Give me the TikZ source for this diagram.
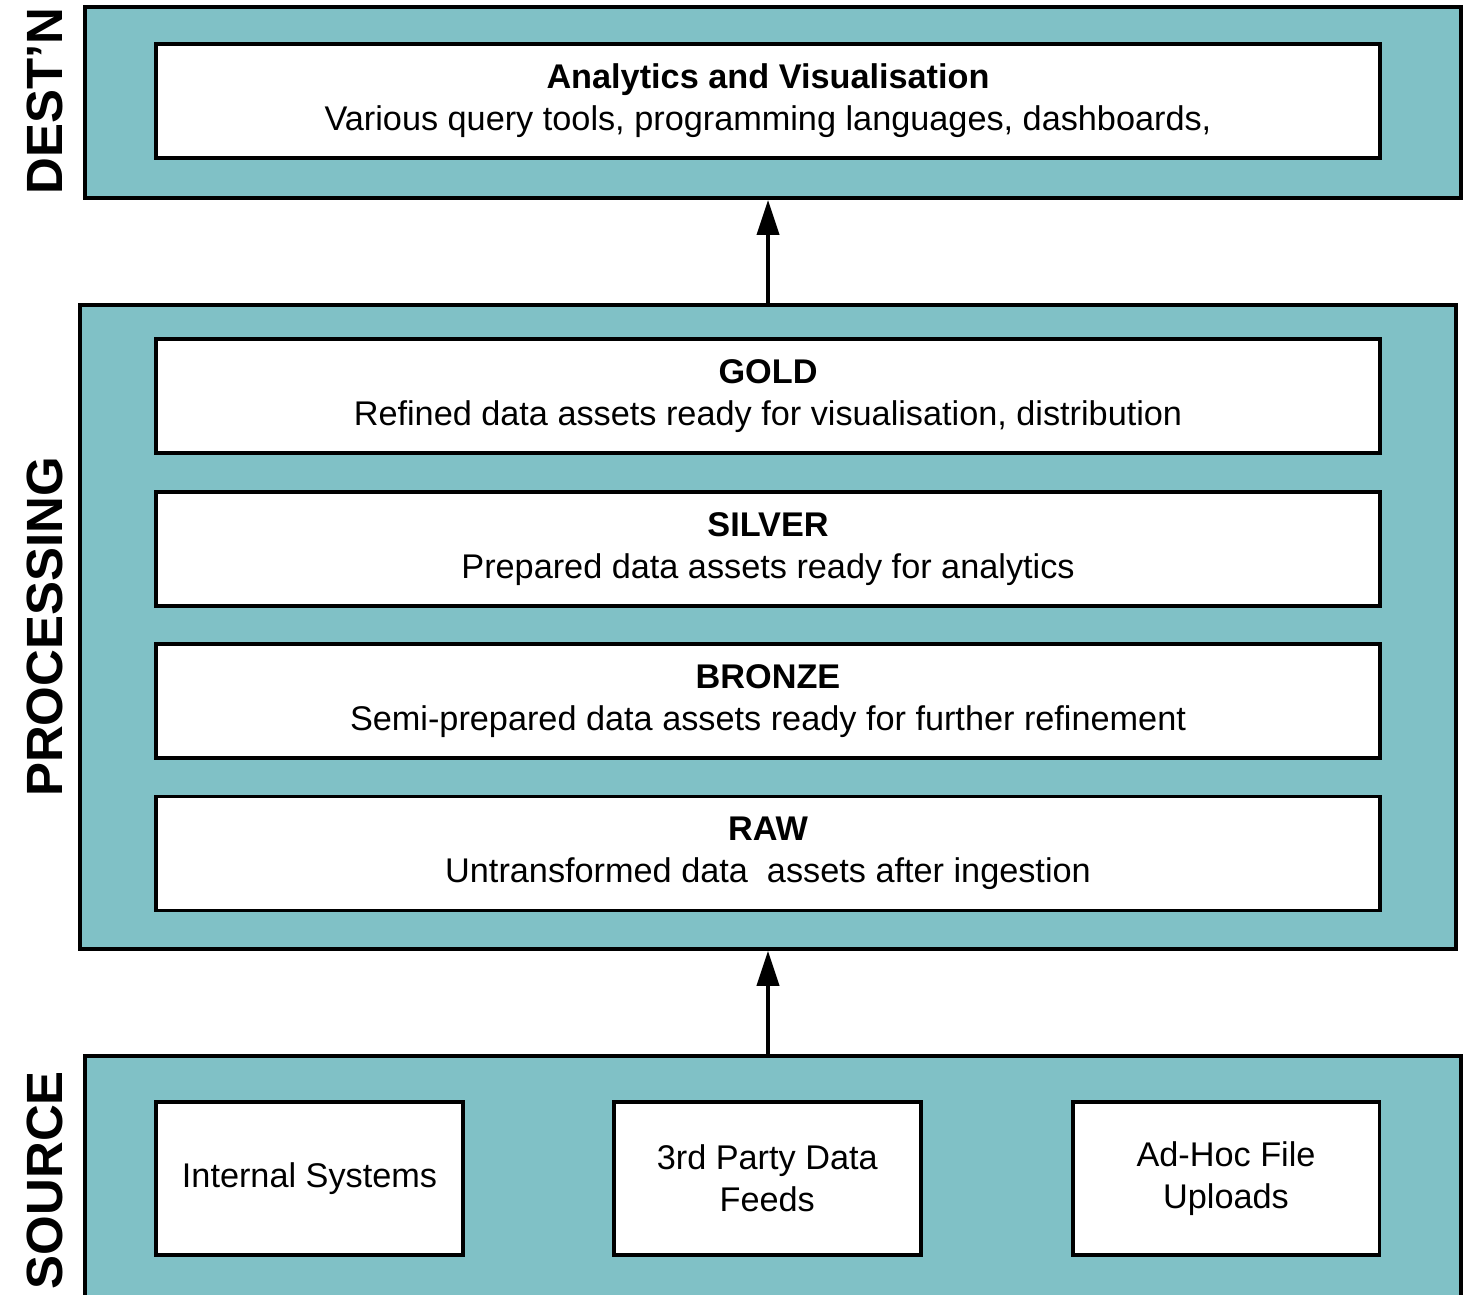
\documentclass[tikz,border=0pt]{standalone}
\usepackage{fontspec}
\setmainfont{Liberation Sans}
\usetikzlibrary{positioning, arrows.meta}
\definecolor{layercolor}{RGB}{128,193,198}

\begin{document}
\begin{tikzpicture}[
    x=0.02cm, y=-0.02cm,
    layer/.style={rectangle, draw, line width=2.2pt, fill=layercolor, inner sep=0pt,
                  minimum width=27.52cm},
    stage/.style={rectangle, draw, line width=2.2pt, fill=white, align=center,
                  minimum width=24.48cm, minimum height=2.28cm, inner sep=0pt,
                  font=\fontsize{19.5}{24}\selectfont},
    srcbox/.style={stage, minimum width=6.14cm, minimum height=3.06cm},
    side/.style={rotate=90, font=\fontsize{29}{30}\selectfont\bfseries},
    flow/.style={-{Triangle[length=0.7cm, width=0.44cm]}, line width=2.2pt}
]
\clip (0,0) rectangle (1472,1295);

% the three layers
\node[layer, minimum height=3.82cm] (dest) at (773,102.5) {};
\node[layer, minimum height=12.88cm] (proc) at (768,627) {};
\node[layer, minimum height=5.8cm] (src) at (773,1201) {};

\node[side] (destlabel) at (45,101) {DEST'N};
\node[side] (proclabel) at (45,627) {PROCESSING};
\node[side] (srclabel) at (45,1180) {SOURCE};

% destination
\node[stage] (analytics) at (768,101) {\textbf{Analytics and Visualisation}\\Various query tools, programming languages, dashboards,};

% processing stages
\node[stage] (gold) at (768,396) {\textbf{GOLD}\\Refined data assets ready for visualisation, distribution};
\node[stage, below=0.7cm of gold] (silver) {\textbf{SILVER}\\Prepared data assets ready for analytics};
\node[stage, below=0.68cm of silver] (bronze) {\textbf{BRONZE}\\Semi-prepared data assets ready for further refinement};
\node[stage, below=0.7cm of bronze] (raw) {\textbf{RAW}\\Untransformed data\ \ assets after ingestion};

% sources
\node[srcbox] (internal) at (309.5,1178.5) {Internal Systems};
\node[srcbox, right=2.94cm of internal] (thirdparty) {3rd Party Data\\Feeds};
\node[srcbox, right=2.96cm of thirdparty] (adhoc) {Ad-Hoc File\\Uploads};

% flow between layers
\draw[flow] (proc.north) -- (proc.north |- dest.south);
\draw[flow] (src.north -| proc.south) -- (proc.south);

\end{tikzpicture}
\end{document}
